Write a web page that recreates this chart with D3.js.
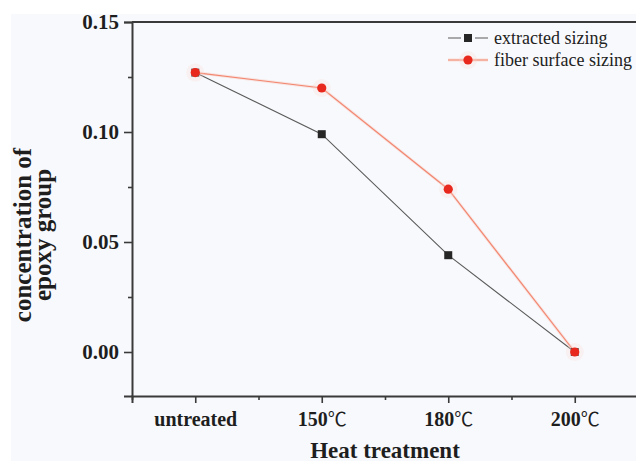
<!DOCTYPE html>
<html lang="en">
<head>
  <meta charset="UTF-8" />
  <title>Epoxy group concentration vs heat treatment</title>
  <script src="https://d3js.org/d3.v7.min.js"></script>
  <style>
    html, body {
      margin: 0;
      padding: 0;
      background: #fff;
    }
    svg {
      display: block;
      font-family: "Liberation Serif", "Times New Roman", serif;
    }
  </style>
</head>
<body>
  <svg id="chart" width="636" height="463"></svg>

  <script>
    // data
    const categories = ["untreated", "150℃", "180℃", "200℃"];
    const extracted = [0.127, 0.099, 0.044, 0.0];
    const fiberSurface = [0.127, 0.120, 0.074, 0.0];
    const yTicks = [0.00, 0.05, 0.10, 0.15];
    const yMinor = [0.025, 0.075, 0.125];
    const seriesNames = ["extracted sizing", "fiber surface sizing"];

    const svg = d3.select("#chart");
    const width = 636, height = 463;

    // light panel behind the plot (scanned figure background)
    svg.append("rect")
      .attr("x", 11).attr("y", 14)
      .attr("width", width - 11).attr("height", 447)
      .attr("fill", "#f8f9fc");

    const x = d3.scaleLinear().domain([0.5, 4.5]).range([132, 638]);
    const y = d3.scaleLinear().domain([-0.02, 0.15]).range([396, 22]);

    const axisColor = "#3a3a3a";

    // frame: top and right lines
    svg.append("line")
      .attr("x1", x(0.5)).attr("x2", x(4.5))
      .attr("y1", y(0.15)).attr("y2", y(0.15))
      .attr("stroke", axisColor).attr("stroke-width", 2);
    svg.append("line")
      .attr("x1", x(4.5)).attr("x2", x(4.5))
      .attr("y1", y(0.15)).attr("y2", y(-0.02))
      .attr("stroke", axisColor).attr("stroke-width", 2);

    // left axis
    const yAxis = svg.append("g")
      .attr("transform", `translate(${x(0.5)},0)`)
      .call(d3.axisLeft(y).tickValues(yTicks).tickSize(8).tickPadding(5)
        .tickFormat(d3.format(".2f")));
    svg.append("g")
      .attr("transform", `translate(${x(0.5)},0)`)
      .call(d3.axisLeft(y).tickValues(yMinor).tickSize(4).tickFormat(""))
      .call(g => g.select(".domain").remove());

    // bottom axis
    const xAxis = svg.append("g")
      .attr("transform", `translate(0,${y(-0.02)})`)
      .call(d3.axisBottom(x).tickValues([1, 2, 3, 4]).tickSize(7).tickPadding(9)
        .tickFormat(i => categories[i - 1]));
    svg.append("g")
      .attr("transform", `translate(0,${y(-0.02)})`)
      .call(d3.axisBottom(x).tickValues([0.5, 1.5, 2.5, 3.5, 4.5]).tickSize(4).tickFormat(""))
      .call(g => g.select(".domain").remove());

    svg.selectAll(".domain")
      .attr("stroke", axisColor).attr("stroke-width", 2);
    svg.selectAll(".tick line")
      .attr("stroke", axisColor).attr("stroke-width", 1.6);
    svg.selectAll(".tick text")
      .attr("fill", "#1e1e1e")
      .attr("font-family", "'Liberation Serif', serif")
      .attr("font-weight", "bold")
      .attr("font-size", 20);
    yAxis.selectAll(".tick text").attr("font-size", 21);

    // degree sign in a CJK font, like the original
    xAxis.selectAll(".tick text").each(function (d) {
      const label = categories[d - 1];
      if (label.endsWith("℃")) {
        const t = d3.select(this).text("");
        t.append("tspan").text(label.slice(0, -1));
        t.append("tspan")
          .attr("font-family", "'Noto Sans CJK SC', sans-serif")
          .attr("font-weight", "normal")
          .attr("font-size", 19)
          .text("℃");
      }
    });

    // series lines
    const line = d3.line()
      .x((d, i) => x(i + 1))
      .y(d => y(d));

    svg.append("path")
      .datum(extracted)
      .attr("fill", "none")
      .attr("stroke", "#5a5a5a")
      .attr("stroke-width", 1.1)
      .attr("d", line);

    svg.append("path")
      .datum(fiberSurface)
      .attr("fill", "none")
      .attr("stroke", "#f8c4b8")
      .attr("stroke-width", 3)
      .attr("opacity", 0.4)
      .attr("d", line);
    svg.append("path")
      .datum(fiberSurface)
      .attr("fill", "none")
      .attr("stroke", "#f2866f")
      .attr("stroke-width", 1.2)
      .attr("d", line);

    // markers
    svg.append("g").selectAll("rect")
      .data(extracted)
      .join("rect")
      .attr("x", (d, i) => x(i + 1) - 4)
      .attr("y", d => y(d) - 4)
      .attr("width", 8).attr("height", 8)
      .attr("fill", "#262626");

    svg.append("g").selectAll("circle.halo")
      .data(fiberSurface)
      .join("circle")
      .attr("class", "halo")
      .attr("cx", (d, i) => x(i + 1))
      .attr("cy", d => y(d))
      .attr("r", 9)
      .attr("fill", "#fbd9d0")
      .attr("opacity", 0.25);
    svg.append("g").selectAll("circle.pt")
      .data(fiberSurface)
      .join("circle")
      .attr("class", "pt")
      .attr("cx", (d, i) => x(i + 1))
      .attr("cy", d => y(d))
      .attr("r", 4.6)
      .attr("fill", "#e8281c");

    // legend
    const legend = svg.append("g");
    const rows = [38, 60];
    legend.append("line")
      .attr("x1", 448).attr("x2", 488).attr("y1", rows[0]).attr("y2", rows[0])
      .attr("stroke", "#5a5a5a").attr("stroke-width", 1.1)
      .attr("stroke-dasharray", "13,14,13");
    legend.append("rect")
      .attr("x", 464).attr("y", rows[0] - 4).attr("width", 8).attr("height", 8)
      .attr("fill", "#262626");
    legend.append("line")
      .attr("x1", 448).attr("x2", 488).attr("y1", rows[1]).attr("y2", rows[1])
      .attr("stroke", "#f8c4b8").attr("stroke-width", 3).attr("opacity", 0.5);
    legend.append("line")
      .attr("x1", 448).attr("x2", 488).attr("y1", rows[1]).attr("y2", rows[1])
      .attr("stroke", "#f2866f").attr("stroke-width", 1.2);
    legend.append("circle")
      .attr("cx", 468).attr("cy", rows[1]).attr("r", 9)
      .attr("fill", "#fbd9d0").attr("opacity", 0.25);
    legend.append("circle")
      .attr("cx", 468).attr("cy", rows[1]).attr("r", 4.6)
      .attr("fill", "#e8281c");
    legend.selectAll("text.lbl")
      .data(seriesNames)
      .join("text")
      .attr("class", "lbl")
      .attr("x", 494)
      .attr("y", (d, i) => rows[i] + 6)
      .attr("font-size", 18)
      .attr("fill", "#222")
      .text(d => d);

    // axis titles
    svg.append("text")
      .attr("x", (x(0.5) + x(4.5)) / 2)
      .attr("y", 458)
      .attr("text-anchor", "middle")
      .attr("font-weight", "bold")
      .attr("font-size", 23)
      .attr("fill", "#1e1e1e")
      .text("Heat treatment");

    const yTitle = svg.append("text")
      .attr("transform", "translate(31,235) rotate(-90)")
      .attr("text-anchor", "middle")
      .attr("font-weight", "bold")
      .attr("font-size", 25)
      .attr("fill", "#1e1e1e");
    yTitle.append("tspan").attr("x", 0).attr("dy", 0).text("concentration of");
    yTitle.append("tspan").attr("x", 0).attr("dy", 20).text("epoxy group");
  </script>
</body>
</html>
